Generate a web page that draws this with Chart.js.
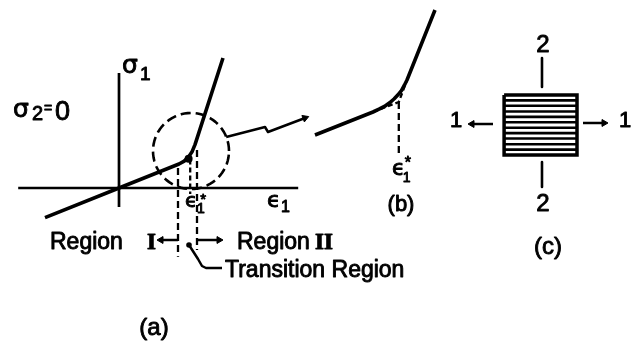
<!DOCTYPE html>
<html>
<head>
<meta charset="utf-8">
<style>
  html, body { margin: 0; padding: 0; background: #fff; }
  canvas { display: block; }
</style>
<script src="https://cdn.jsdelivr.net/npm/chart.js@4.4.1/dist/chart.umd.min.js"></script>
</head>
<body>
<canvas id="fig" width="639" height="346"></canvas>
<script>
// ---------- Panel (a): sigma1 vs eps1 response with sigma2 = 0 ----------
const respStrain = [-1.85, 0, 1.5, 1.63, 1.74, 1.83, 1.9, 2.6];
const respStress = [-0.74, 0, 0.6, 0.673, 0.778, 0.915, 1.085, 3.25];
const strainAxisRange = [-2.52, 4.48];
const stressAxisRange = [-0.475, 2.875];
const epsStar = 1.78;            // eps1*, intersection of the two linear branches
const regionIEnd = 1.475;        // end of Region I
const regionIIStart = 1.95;      // start of Region II
const lensCenter = [1.8, 0.925]; // dashed circle around the knee
const lensRadius = 0.95;
const pointerStrain = [2.68, 3.65, 3.725, 4.65];
const pointerStress = [1.275, 1.525, 1.4, 1.75];
const leaderStrain = [1.75, 1.975, 2.075, 2.175, 2.575];
const leaderStress = [-1.425, -1.775, -1.95, -2.0, -2.0];

// ---------- Panel (b): enlarged knee ----------
const kneeStrain = [0.375, 1.825, 1.975, 2.11, 2.24, 2.35, 2.45, 2.54, 2.61, 2.675, 3.375];
const kneeStress = [1.375, 1.95, 2.02, 2.09, 2.18, 2.275, 2.38, 2.49, 2.62, 2.75, 4.5];
const kneeStar = [2.47, 2.2];    // tangent intersection
const kneeTangentLow = [1.825, 1.95];
const kneeTangentHigh = [2.675, 2.75];

// ---------- Panel (c): lamina with fibres along direction 1 ----------
const plateU = [-1.23, 1.2];
const plateV = [-1, 1];
const hatchV = [0.82, 0.64, 0.45, 0.27, 0.09, -0.09, -0.27, -0.45, -0.64, -0.82];

// Frames: origin pixel and pixels per unit for each panel
const frames = {
  a: { ox: 119, oy: 188, k: 40 },
  b: { ox: 300, oy: 190, k: 40 },
  c: { ox: 541, oy: 125, k: 30 }
};
const W = 639, H = 346;

function pts(xs, ys) { return xs.map((x, i) => ({ x, y: ys[i] })); }

function line(panel, data, opts) {
  return Object.assign({
    data,
    xAxisID: 'x' + panel,
    yAxisID: 'y' + panel,
    showLine: true,
    borderColor: '#000',
    backgroundColor: '#000',
    borderWidth: 3,
    pointRadius: 0,
    pointHoverRadius: 0,
    tension: 0,
    fill: false,
    borderCapStyle: 'butt',
    borderJoinStyle: 'round'
  }, opts || {});
}

// arrow: line with a triangular head on its last point
function arrow(panel, data, rot, opts) {
  const last = data.length - 1;
  return line(panel, data, Object.assign({
    borderWidth: 2.5,
    pointStyle: 'triangle',
    pointRotation: rot,
    pointRadius: (c) => (c.dataIndex === last ? 4 : 0),
    pointBackgroundColor: '#000',
    pointBorderColor: '#000',
    pointBorderWidth: 1
  }, opts || {}));
}

const lensPts = [];
for (let d = 0; d <= 360; d += 5) {
  const r = d * Math.PI / 180;
  lensPts.push({ x: lensCenter[0] + lensRadius * Math.cos(r), y: lensCenter[1] + lensRadius * Math.sin(r) });
}

const dash = [7, 4];

const datasets = [
  // panel (a)
  line('a', [{ x: strainAxisRange[0], y: 0 }, { x: strainAxisRange[1], y: 0 }], { borderWidth: 2.7 }),
  line('a', [{ x: 0, y: stressAxisRange[0] }, { x: 0, y: stressAxisRange[1] }], { borderWidth: 2.7 }),
  line('a', pts(respStrain, respStress), { borderWidth: 3.6 }),
  line('a', [{ x: 1.74, y: 0.73 }], { showLine: false, pointRadius: 4, pointBackgroundColor: '#000', pointBorderWidth: 0 }),
  line('a', lensPts, { borderWidth: 2.6, borderDash: [10, 5] }),
  line('a', [{ x: regionIEnd, y: 0.5 }, { x: regionIEnd, y: -1.72 }], { borderWidth: 2.3, borderDash: dash }),
  line('a', [{ x: epsStar, y: 0.71 }, { x: epsStar, y: -0.15 }], { borderWidth: 2.3, borderDash: [5, 3] }),
  line('a', [{ x: regionIIStart, y: 0.95 }, { x: regionIIStart, y: -1.55 }], { borderWidth: 2.3, borderDash: dash }),
  arrow('a', [{ x: regionIEnd, y: -1.3 }, { x: 1.05, y: -1.3 }], 270),
  arrow('a', [{ x: regionIIStart, y: -1.3 }, { x: 2.5, y: -1.3 }], 90),
  arrow('a', pts(pointerStrain, pointerStress), 69),
  line('a', pts(leaderStrain, leaderStress), { borderWidth: 2.5 }),
  line('a', [{ x: leaderStrain[0], y: leaderStress[0] }], { showLine: false, pointRadius: 2.8, pointBackgroundColor: '#000', pointBorderWidth: 0 }),

  // panel (b)
  line('b', pts(kneeStrain, kneeStress), { borderWidth: 3.6 }),
  line('b', [{ x: kneeTangentLow[0], y: kneeTangentLow[1] }, { x: kneeStar[0], y: kneeStar[1] }, { x: kneeTangentHigh[0], y: kneeTangentHigh[1] }], { borderWidth: 2.3, borderDash: [5, 3] }),
  line('b', [{ x: kneeStar[0], y: kneeStar[1] }, { x: kneeStar[0], y: 0.875 }], { borderWidth: 2.3, borderDash: dash }),

  // panel (c)
  line('c', [
    { x: plateU[0], y: plateV[1] }, { x: plateU[1], y: plateV[1] },
    { x: plateU[1], y: plateV[0] }, { x: plateU[0], y: plateV[0] },
    { x: plateU[0], y: plateV[1] }
  ], { borderWidth: 3.5, borderJoinStyle: 'miter' }),
  ...hatchV.map(v => line('c', [{ x: plateU[0], y: v }, { x: plateU[1], y: v }], { borderWidth: 2.6 })),
  line('c', [{ x: 0.033, y: 2.233 }, { x: 0.033, y: 1.267 }], { borderWidth: 2.6 }),
  line('c', [{ x: 0.033, y: -1.233 }, { x: 0.033, y: -2.067 }], { borderWidth: 2.6 }),
  arrow('c', [{ x: -1.6, y: 0.033 }, { x: -2.3, y: 0.033 }], 270),
  arrow('c', [{ x: 1.4, y: 0.067 }, { x: 2.1, y: 0.067 }], 90)
];

// Text drawn in panel units
const SANS = '"Liberation Sans", Arial, sans-serif';
const GREEK = '"DejaVu Sans", sans-serif';
const SERIF = '"Liberation Serif", serif';
const figureText = [
  { p: 'a', x: 0.075, y: 2.875, t: 'σ', font: '25px ' + GREEK },
  { p: 'a', x: 0.525, y: 2.7, t: '1', font: '19px ' + SANS },
  { p: 'a', x: -2.65, y: 1.775, t: 'σ', font: '25px ' + GREEK },
  { p: 'a', x: -2.175, y: 1.7, t: '2', font: '20px ' + SANS },
  { p: 'a', x: -1.875, y: 1.875, t: '=', font: '14px ' + SANS },
  { p: 'a', x: -1.6, y: 1.7, t: '0', font: '27px ' + SANS },
  { p: 'a', x: 3.7, y: -0.475, t: 'ϵ', font: '22px ' + GREEK },
  { p: 'a', x: 4.05, y: -0.6, t: '1', font: '16px ' + SANS },
  { p: 'a', x: 1.65, y: -0.475, t: 'ϵ', font: '20px ' + GREEK },
  { p: 'a', x: 1.95, y: -0.625, t: '1', font: '14px ' + SANS },
  { p: 'a', x: 2.03, y: -0.4, t: '*', font: '15px ' + SANS },
  { p: 'a', x: -1.725, y: -1.525, t: 'Region', font: '23px ' + SANS },
  { p: 'a', x: 0.7, y: -1.525, t: 'I', font: 'bold 23px ' + SERIF },
  { p: 'a', x: 2.95, y: -1.525, t: 'Region', font: '23px ' + SANS },
  { p: 'a', x: 4.9, y: -1.525, t: 'II', font: 'bold 23px ' + SERIF },
  { p: 'a', x: 2.65, y: -2.225, t: 'Transition Region', font: '23px ' + SANS },
  { p: 'a', x: 0.875, y: -3.5, t: '(a)', font: '24px ' + SANS, align: 'center', base: 'middle' },

  { p: 'b', x: 2.3, y: 0.375, t: 'ϵ', font: '21px ' + GREEK },
  { p: 'b', x: 2.57, y: 0.2, t: '1', font: '14px ' + SANS },
  { p: 'b', x: 2.62, y: 0.55, t: '*', font: '16px ' + SANS },
  { p: 'b', x: 2.525, y: -0.375, t: '(b)', font: '22px ' + SANS, align: 'center', base: 'middle' },

  { p: 'c', x: 0.067, y: 2.667, t: '2', font: '24px ' + SANS, align: 'center', base: 'middle' },
  { p: 'c', x: 0.067, y: -2.633, t: '2', font: '24px ' + SANS, align: 'center', base: 'middle' },
  { p: 'c', x: -2.833, y: 0.133, t: '1', font: '22px ' + SANS, align: 'center', base: 'middle' },
  { p: 'c', x: 2.8, y: 0.133, t: '1', font: '22px ' + SANS, align: 'center', base: 'middle' },
  { p: 'c', x: 0.233, y: -4.067, t: '(c)', font: '24px ' + SANS, align: 'center', base: 'middle' }
];

// Lettering is drawn filled plus a thin outline for a heavier pen stroke
const textPlugin = {
  id: 'figureText',
  afterDatasetsDraw(chart) {
    const ctx = chart.ctx;
    ctx.save();
    ctx.fillStyle = '#000';
    ctx.strokeStyle = '#000';
    ctx.lineWidth = 0.9;
    ctx.lineJoin = 'round';
    for (const l of figureText) {
      const xs = chart.scales['x' + l.p], ys = chart.scales['y' + l.p];
      ctx.font = l.font;
      ctx.textAlign = l.align || 'left';
      ctx.textBaseline = l.base || 'alphabetic';
      const px = xs.getPixelForValue(l.x), py = ys.getPixelForValue(l.y);
      ctx.fillText(l.t, px, py);
      ctx.strokeText(l.t, px, py);
    }
    ctx.restore();
  }
};

const scales = {};
for (const [p, f] of Object.entries(frames)) {
  scales['x' + p] = { type: 'linear', display: false, min: -f.ox / f.k, max: (W - f.ox) / f.k };
  scales['y' + p] = { type: 'linear', display: false, min: -(H - f.oy) / f.k, max: f.oy / f.k };
}

new Chart(document.getElementById('fig'), {
  type: 'scatter',
  data: { datasets },
  options: {
    responsive: false,
    animation: false,
    devicePixelRatio: 1,
    layout: { padding: 0, autoPadding: false },
    events: [],
    plugins: { legend: { display: false }, tooltip: { enabled: false }, title: { display: false } },
    scales
  },
  plugins: [textPlugin]
});
</script>
</body>
</html>
